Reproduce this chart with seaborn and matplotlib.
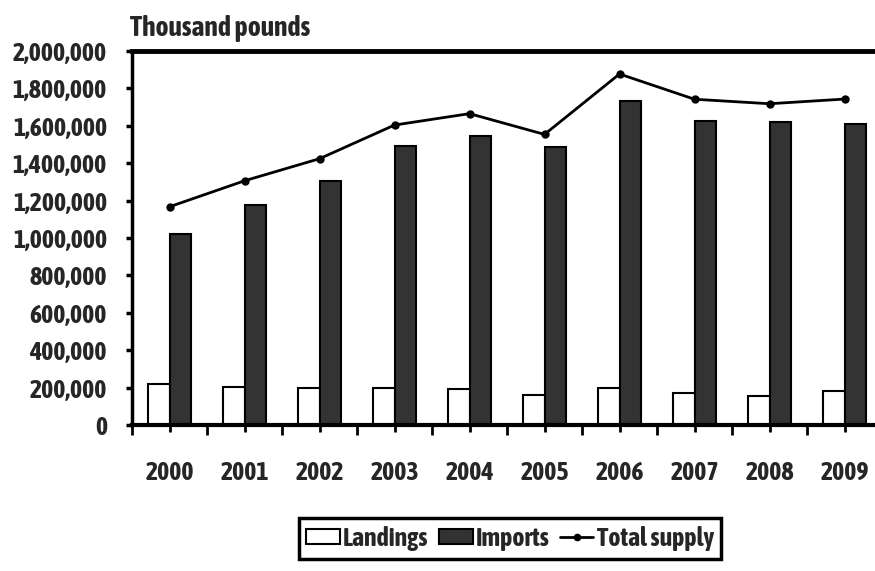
import pandas as pd
import seaborn as sns
import matplotlib.pyplot as plt
from matplotlib.patches import Patch
from matplotlib.lines import Line2D
from matplotlib.ticker import StrMethodFormatter

sns.set_style("white")
plt.rcParams['font.family'] = ['Asap Condensed', 'Liberation Sans', 'DejaVu Sans']
plt.rcParams['font.weight'] = 'bold'
plt.rcParams['font.style'] = 'normal'

years = ['2000', '2001', '2002', '2003', '2004', '2005', '2006', '2007', '2008', '2009']
landings = [219000, 201000, 196000, 196000, 192000, 159000, 200000, 173000, 155000, 182000]
imports = [1021000, 1176000, 1305000, 1494000, 1544000, 1488000, 1734000, 1627000, 1620000, 1608000]
total_supply = [1167000, 1306000, 1424000, 1604000, 1665000, 1554000, 1877000, 1742000, 1718000, 1743000]

df = pd.DataFrame({
    'year': years * 2,
    'value': landings + imports,
    'series': ['Landings'] * len(years) + ['Imports'] * len(years),
})

fig = plt.figure(figsize=(8.75, 5.71), dpi=100)

# size the text so "2,000,000" is about 94 px wide, as in the reference
probe = fig.text(0, 0, '2,000,000', fontsize=20, fontweight='bold')
fig.canvas.draw()
w = probe.get_window_extent().width
probe.remove()
fs = 20 * 94 / w

ax = fig.add_axes([132 / 875, 1 - 425 / 571, 750 / 875, 374 / 571])

palette = {'Landings': 'white', 'Imports': '#333333'}
sns.barplot(data=df, x='year', y='value', hue='series', palette=palette,
            width=0.575, edgecolor='black', linewidth=1.5, legend=False, ax=ax)
sns.pointplot(x=years, y=total_supply, color='black', markers='o',
              markersize=4.5, linewidth=2, ax=ax)

ax.set_ylim(0, 2000000)
ax.set_xlim(-0.5, 9.5)
ax.set_yticks(range(0, 2000001, 200000))
ax.yaxis.set_major_formatter(StrMethodFormatter('{x:,.0f}'))
ax.set_xticks([i - 0.5 for i in range(11)], minor=True)
ax.set_xlabel('')
ax.set_ylabel('')

for side in ['left', 'bottom', 'top', 'right']:
    ax.spines[side].set_color('black')
ax.spines['left'].set_linewidth(2.5)
ax.spines['bottom'].set_linewidth(3)
ax.spines['top'].set_linewidth(3.5)
ax.spines['right'].set_linewidth(3)

ax.tick_params(axis='y', which='major', direction='out', length=4, width=2.5,
               color='black', pad=14, labelsize=fs, left=True)
ax.tick_params(axis='x', which='major', direction='out', length=5, width=2,
               color='black', pad=20, labelsize=fs, bottom=True)
ax.tick_params(axis='x', which='minor', direction='out', length=7, width=2,
               color='black', bottom=True)
for lab in ax.get_xticklabels() + ax.get_yticklabels():
    lab.set_fontweight('bold')

fig.text(130 / 875, 1 - 28 / 571, 'Thousand pounds', fontsize=fs * 1.07,
         fontweight='bold', va='center', ha='left')

handles = [
    Patch(facecolor='white', edgecolor='black', linewidth=1.5, label='Landings'),
    Patch(facecolor='#333333', edgecolor='black', linewidth=1.5, label='Imports'),
    Line2D([0], [0], color='black', linewidth=2, marker='o', markersize=4.5,
           label='Total supply'),
]
leg = fig.legend(handles=handles, loc='upper center', ncol=3,
                 bbox_to_anchor=(510 / 875, 1 - 518 / 571),
                 bbox_transform=fig.transFigure, frameon=True, fancybox=False,
                 edgecolor='black', prop={'size': fs, 'weight': 'bold'},
                 handlelength=1.3, handleheight=0.5, handletextpad=0.12,
                 columnspacing=0.4, borderpad=0.3, borderaxespad=0)
leg.get_frame().set_linewidth(2.5)
leg.get_frame().set_alpha(1)

fig.savefig('out.png', dpi=100)
